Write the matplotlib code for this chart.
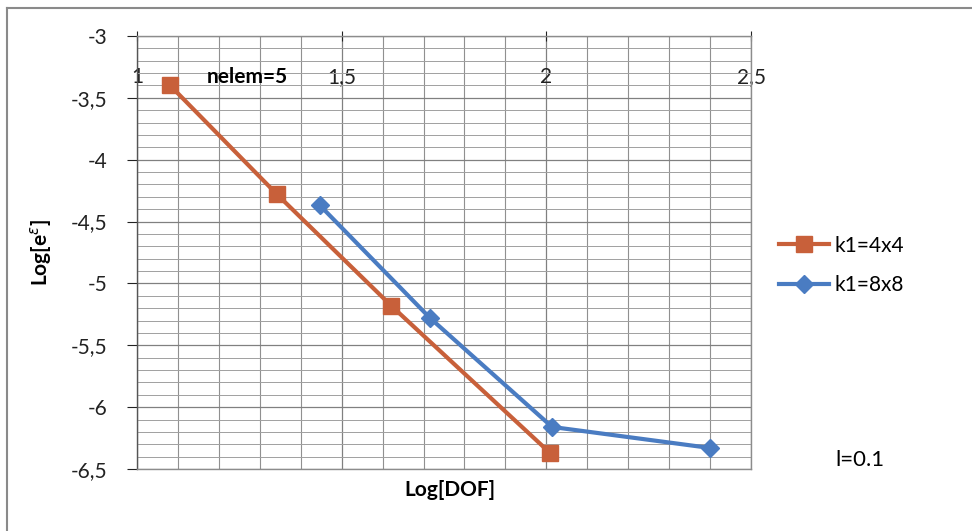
import matplotlib.pyplot as plt
from matplotlib.lines import Line2D
from matplotlib.ticker import MultipleLocator, FuncFormatter

# data
log_dof_4x4 = [1.081, 1.342, 1.621, 2.009]
log_err_4x4 = [-3.40, -4.28, -5.18, -6.37]
log_dof_8x8 = [1.447, 1.716, 2.014, 2.400]
log_err_8x8 = [-4.37, -5.28, -6.16, -6.33]
series_labels = ["k1=4x4", "k1=8x8"]

ORANGE = "#C8603A"
BLUE = "#4A7CC2"
GRID = "#A0A0A0"

plt.rcParams["font.family"] = ["Lato", "DejaVu Sans"]


def comma_fmt(v, pos):
    s = f"{v:g}"
    return s.replace(".", ",")


fig = plt.figure(figsize=(9.72, 5.31), dpi=100)
ax = fig.add_axes([137 / 972, 1 - 469 / 531, 614 / 972, 433 / 531])

ax.plot(log_dof_4x4, log_err_4x4, color=ORANGE, lw=3, marker="s", ms=12,
        label=series_labels[0], zorder=3)
ax.plot(log_dof_8x8, log_err_8x8, color=BLUE, lw=3, marker="D", ms=9,
        label=series_labels[1], zorder=3)

ax.set_xlim(1, 2.5)
ax.set_ylim(-6.5, -3)

ax.xaxis.set_major_locator(MultipleLocator(0.5))
ax.xaxis.set_minor_locator(MultipleLocator(0.1))
ax.yaxis.set_major_locator(MultipleLocator(0.5))
ax.yaxis.set_minor_locator(MultipleLocator(0.1))
ax.xaxis.set_major_formatter(FuncFormatter(comma_fmt))
ax.yaxis.set_major_formatter(FuncFormatter(comma_fmt))

ax.grid(which="major", color="#808080", lw=0.9)
ax.grid(which="minor", axis="x", color="#909090", lw=0.8)
ax.grid(which="minor", axis="y", color=GRID, lw=0.7)
ax.set_axisbelow(True)

# x labels sit inside the plot, just under the top axis (Excel style)
ax.tick_params(axis="x", which="major", top=True, bottom=False, labeltop=True,
               labelbottom=False, direction="inout", length=7, pad=-40,
               labelsize=15, colors="#222222")
ax.tick_params(axis="x", which="minor", top=False, bottom=False)
ax.tick_params(axis="y", which="major", direction="out", length=7,
               labelsize=15, colors="#222222", pad=14)
ax.tick_params(axis="y", which="minor", left=False)

for name, sp in ax.spines.items():
    sp.set_color("#555555" if name == "left" else "#8C8C8C")
    sp.set_linewidth(1.0)

ax.set_xlabel("Log[DOF]", fontsize=15, fontweight="bold")
ax.xaxis.set_label_coords(0.51, -0.025)
ax.xaxis.label.set_va("top")
ax.set_ylabel(r"Log[e$^{\varepsilon}$]", fontsize=15, fontweight="bold")
ax.yaxis.set_label_coords(-0.135, 0.5)

ax.text(1.17, -3.33, "nelem=5", fontsize=15, fontweight="bold", va="center")

fig.text(835 / 972, 1 - 460 / 531, "l=0.1", fontsize=16, va="center")

ax.legend(loc="center left", bbox_to_anchor=(1.015, 0.47), frameon=False,
          fontsize=15, handlelength=2.4, handletextpad=0.25, labelspacing=0.95)

# outer chart frame (top and left edges visible in the scan)
fig.add_artist(Line2D([7 / 972, 1], [1 - 8 / 531, 1 - 8 / 531],
                      transform=fig.transFigure, color="#8A8A8A", lw=1.5))
fig.add_artist(Line2D([7 / 972, 7 / 972], [0, 1 - 8 / 531],
                      transform=fig.transFigure, color="#8A8A8A", lw=1.5))

fig.savefig("out.png", dpi=100)
